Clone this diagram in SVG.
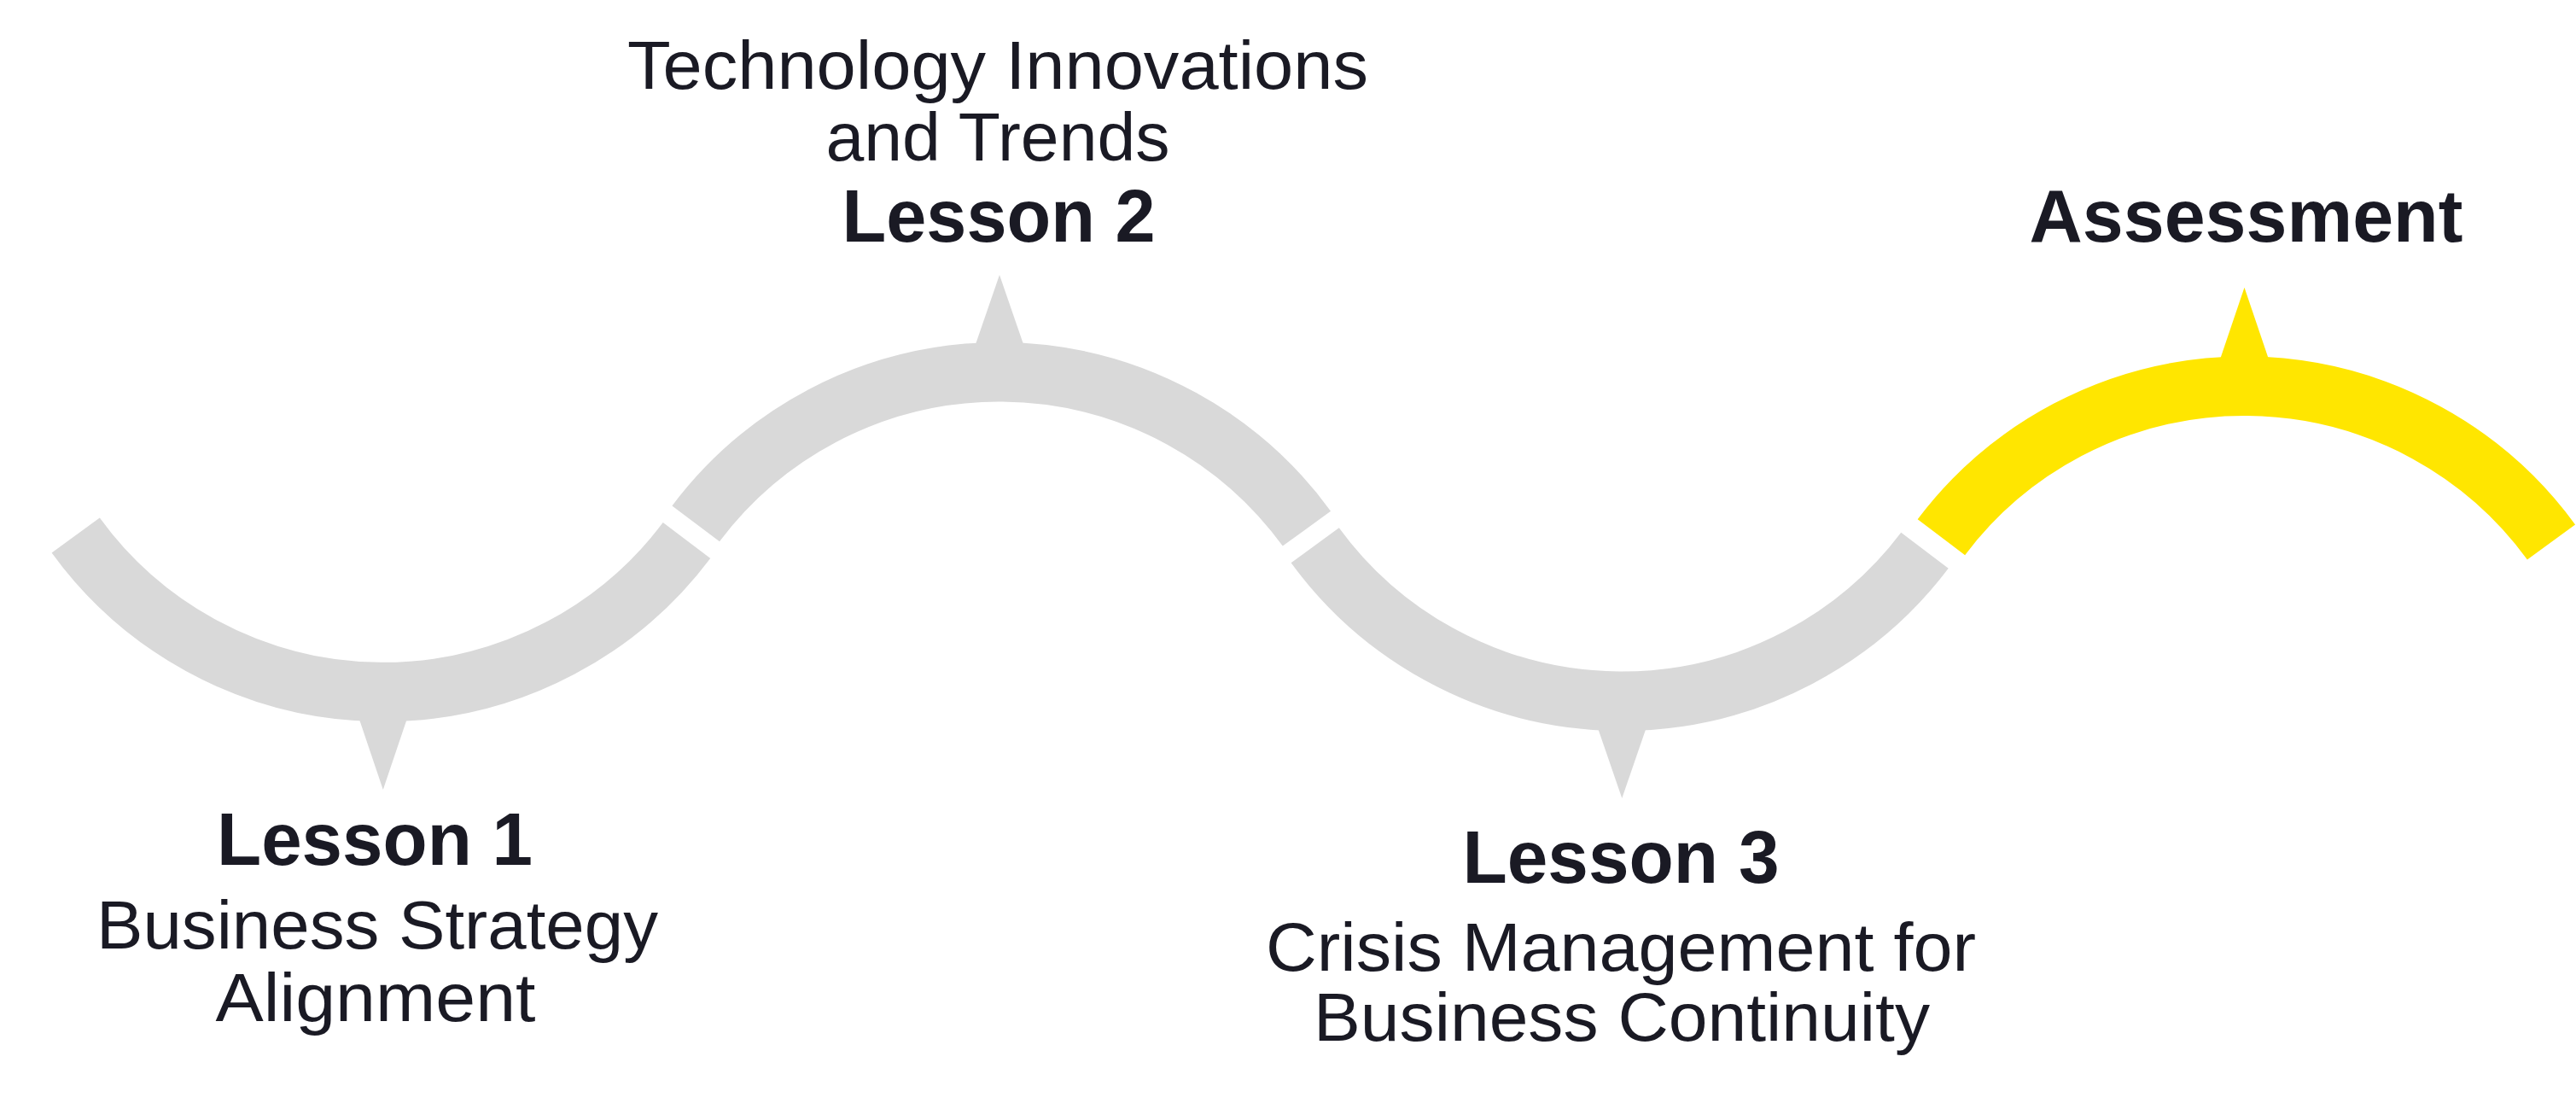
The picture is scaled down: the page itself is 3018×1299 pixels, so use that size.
<svg xmlns="http://www.w3.org/2000/svg" width="3018" height="1299" viewBox="0 0 3018 1299">
<style>
.seg{fill:none;stroke-width:69.5;stroke-linecap:butt}
.gray{stroke:#D9D9D9}
.yel{stroke:#FFE600}
.pg{fill:#D9D9D9}
.py{fill:#FFE600}
.t{font-family:"Liberation Sans",Arial,sans-serif;fill:#1A1A24;text-anchor:middle}
.h{font-size:88px;font-weight:bold}
.d{font-size:80px}
</style>
<rect width="3018" height="1299" fill="#FFFFFF"/>
<g id="lesson1">
<path class="seg gray" d="M 88.7 627 A 445 445 0 0 0 804.5 633"/>
<polygon class="pg" points="418.4,835 479.2,835 448.8,925"/>
<text class="t h" x="439" y="1013" textLength="370" lengthAdjust="spacingAndGlyphs">Lesson 1</text>
<text class="t d" x="442" y="1110.5" textLength="658" lengthAdjust="spacingAndGlyphs">Business Strategy</text>
<text class="t d" x="440" y="1196" textLength="375" lengthAdjust="spacingAndGlyphs">Alignment</text>
</g>
<g id="lesson2">
<path class="seg gray" d="M 815.2 613.3 A 445 445 0 0 1 1530.9 619.2"/>
<polygon class="pg" points="1140.3,411 1201.7,411 1171,322"/>
<text class="t d" x="1169" y="104" textLength="868" lengthAdjust="spacingAndGlyphs">Technology Innovations</text>
<text class="t d" x="1169" y="187.5" textLength="403" lengthAdjust="spacingAndGlyphs">and Trends</text>
<text class="t h" x="1170" y="283" textLength="367" lengthAdjust="spacingAndGlyphs">Lesson 2</text>
</g>
<g id="lesson3">
<path class="seg gray" d="M 1540.7 638.7 A 445 445 0 0 0 2255 644.7"/>
<polygon class="pg" points="1869.9,846.7 1930.7,846.7 1900.3,935"/>
<text class="t h" x="1899" y="1034" textLength="371" lengthAdjust="spacingAndGlyphs">Lesson 3</text>
<text class="t d" x="1899" y="1137" textLength="832" lengthAdjust="spacingAndGlyphs">Crisis Management for</text>
<text class="t d" x="1900" y="1219" textLength="722" lengthAdjust="spacingAndGlyphs">Business Continuity</text>
</g>
<g id="assessment">
<path class="seg yel" d="M 2274.4 629.2 A 445 445 0 0 1 2989 634.9"/>
<polygon class="py" points="2599,426.7 2660,426.7 2629.5,336.7"/>
<text class="t h" x="2631.5" y="282.5" textLength="508" lengthAdjust="spacingAndGlyphs">Assessment</text>
</g>
<g id="connectors"></g>
</svg>
